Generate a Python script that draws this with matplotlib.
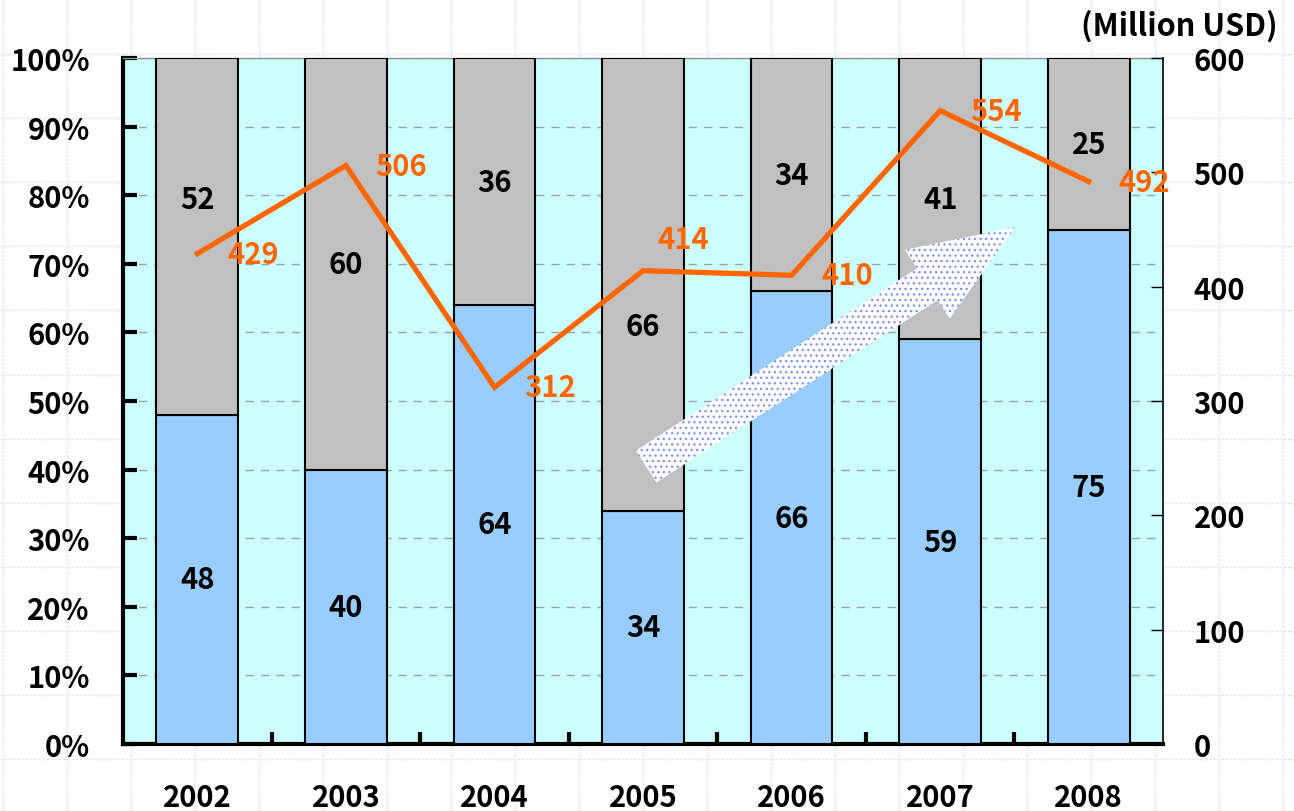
import matplotlib.pyplot as plt
import matplotlib.patches as mpatches
import matplotlib.transforms as mtransforms
from matplotlib.lines import Line2D
from matplotlib.ticker import FuncFormatter
import numpy as np

plt.rcParams["font.family"] = ["Noto Sans CJK JP", "DejaVu Sans"]
plt.rcParams["font.weight"] = "bold"
plt.rcParams["hatch.linewidth"] = 0.9

years = ["2002", "2003", "2004", "2005", "2006", "2007", "2008"]
share_blue = [48, 40, 64, 34, 66, 59, 75]
share_grey = [52, 60, 36, 66, 34, 41, 25]
total_musd = [429, 506, 312, 414, 410, 554, 492]

BLUE = "#99CCFF"
GREY = "#C0C0C0"
CYAN = "#CCFFFF"
ORANGE = "#FF6600"
FS = 21

fig = plt.figure(figsize=(12.94, 8.12), dpi=100)

# faint spreadsheet grid behind everything
W, H = 1294, 812
for gx in np.arange(3, W, 64):
    fig.add_artist(Line2D([gx, gx], [0, H], transform=mtransforms.IdentityTransform(),
                          color="#e0e5fa", lw=1, ls=(0, (2, 1)), zorder=0))
for gy in np.arange(55, H, 64.1):
    fig.add_artist(Line2D([0, W], [H - gy, H - gy], transform=mtransforms.IdentityTransform(),
                          color="#e0e5fa", lw=1, ls=(0, (2, 1)), zorder=0))

ax = fig.add_axes([0.0951, 0.0825, 0.8037, 0.8448])
ax.set_facecolor(CYAN)
x = np.arange(len(years))
width = 0.55

ax.bar(x, share_blue, width, color=BLUE, edgecolor="black", linewidth=1.5, zorder=3)
ax.bar(x, share_grey, width, bottom=share_blue, color=GREY, edgecolor="black",
       linewidth=1.5, zorder=3)

# segment labels (two grey labels nudged to stay clear of the line)
grey_shift = {0: 5.5, 3: -6}
for i in range(len(years)):
    ax.text(x[i], share_blue[i] / 2, str(share_blue[i]), ha="center", va="center",
            fontsize=FS, fontweight="bold", zorder=5)
    gy = share_blue[i] + share_grey[i] / 2 + grey_shift.get(i, 0)
    ax.text(x[i], gy, str(share_grey[i]), ha="center", va="center",
            fontsize=FS, fontweight="bold", zorder=5)

ax.set_xlim(-0.5, len(years) - 0.5)
ax.set_ylim(0, 100)
ax.set_yticks(np.arange(0, 101, 10))
ax.yaxis.set_major_formatter(FuncFormatter(lambda v, p: f"{v:.0f}%"))
ax.grid(axis="y", color="#a0a0a0", linestyle=(0, (6, 5)), linewidth=1, zorder=1)
ax.set_axisbelow(True)

ax.set_xticks(x)
ax.set_xticklabels(years, fontsize=FS, fontweight="bold")
ax.set_xticks(x[:-1] + 0.5, minor=True)
ax.tick_params(axis="x", which="major", length=0, pad=27)
ax.tick_params(axis="x", which="minor", direction="in", length=9, width=3)
ax.tick_params(axis="y", direction="in", length=10, width=3, pad=24, labelsize=FS)
for lab in ax.get_yticklabels():
    lab.set_fontweight("bold")

ax.spines["left"].set_linewidth(3)
ax.spines["bottom"].set_linewidth(3)
ax.spines["top"].set_color("#909090")
ax.spines["top"].set_linewidth(1)
ax.spines["right"].set_visible(False)

ax2 = ax.twinx()
ax2.set_ylim(0, 600)
ax2.set_yticks(np.arange(0, 601, 100))
ax2.tick_params(axis="y", direction="in", length=9, width=1, pad=22, labelsize=FS)
for lab in ax2.get_yticklabels():
    lab.set_fontweight("bold")
ax2.spines["right"].set_linewidth(1.2)
for s in ["left", "bottom", "top"]:
    ax2.spines[s].set_visible(False)

ax2.plot(x, total_musd, color=ORANGE, linewidth=3.8, zorder=6, solid_joinstyle="miter")
label_offsets = {3: (29, 23)}
for i, v in enumerate(total_musd):
    ax2.annotate(str(v), (x[i], v), xytext=label_offsets.get(i, (40, 0)),
                 textcoords="offset points", ha="center", va="center",
                 color=ORANGE, fontsize=FS, fontweight="bold", zorder=7)

ax2.text(1.016, 1.047, "(Million USD)", transform=ax.transAxes, ha="center",
         va="center", fontsize=22, fontweight="bold")

# trend arrow (decoration, placed in axes fractions)
tail = ax.transAxes.transform((0.503, 0.4045))
tip = ax.transAxes.transform((0.858, 0.7536))
d = tip - tail
L = np.hypot(*d)
u = d / L
n = np.array([-u[1], u[0]])
shaft_w, head_w, head_l = 38, 82, 105
neck = tip - u * head_l
verts = [tail + n * shaft_w / 2, neck + n * shaft_w / 2, neck + n * head_w / 2, tip,
         neck - n * head_w / 2, neck - n * shaft_w / 2, tail - n * shaft_w / 2]
arrow = mpatches.Polygon(verts, closed=True, transform=mtransforms.IdentityTransform(),
                         facecolor="white", edgecolor="#7890ff", hatch="...",
                         linewidth=0, zorder=5)
ax2.add_patch(arrow)

fig.savefig("out.png", dpi=100)
